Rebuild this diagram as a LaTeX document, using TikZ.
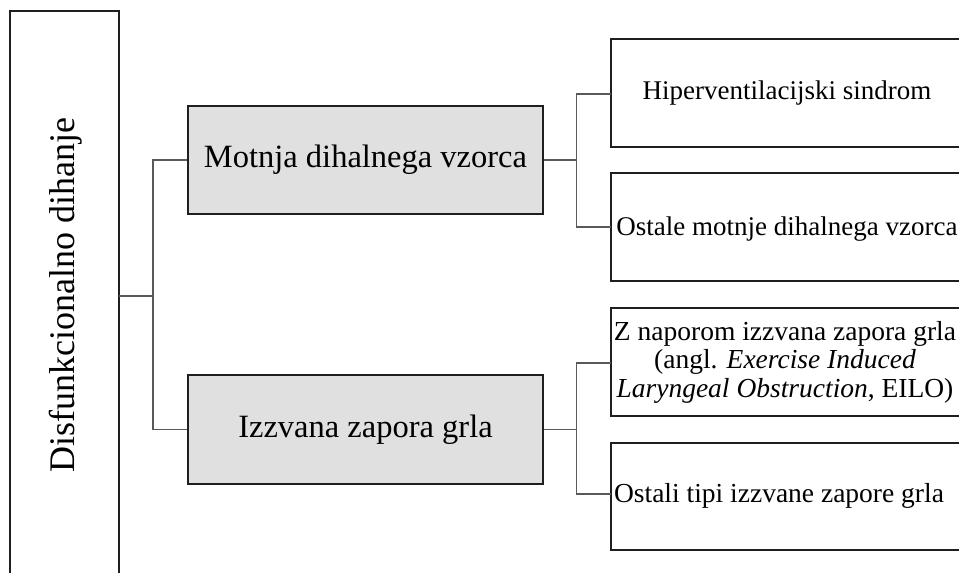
\documentclass[tikz,border=0pt]{standalone}
\usepackage{fontspec}
\setmainfont{Liberation Serif}
\begin{document}
\begin{tikzpicture}[x=1pt,y=-1pt,
  box/.style={draw=black!88, line width=1.8pt, inner sep=0pt},
  grp/.style={box, fill=black!12, minimum width=355pt, font=\fontsize{32.5}{38}\selectfont},
  link/.style={draw=black!65, line width=1.4pt},
  leaf/.style={font=\fontsize{27}{31}\selectfont, align=center}
]
\useasboundingbox (0,0) rectangle (959,573);
\clip (0,0) rectangle (959,573);

% root column, running past the lower edge
\draw[box] (10,11) rectangle (119,600);
\node[rotate=90, font=\fontsize{36}{42}\selectfont] (root) at (66,295) {Disfunkcionalno dihanje};
\coordinate (rootR) at (119,296);

% second level
\node[grp, minimum height=108pt] (g1) at (365.5,160) {Motnja dihalnega vzorca};
\node[grp, minimum height=109pt] (g2) at (365.5,429.5) {Izzvana zapora grla};

% third level (boxes run past the right edge)
\draw[box] (611,39) rectangle (980,147);
\draw[box] (611,173) rectangle (980,281);
\draw[box] (611,308) rectangle (980,416);
\draw[box] (611,443) rectangle (980,550);
\node[leaf] (l1) at (787,93) {Hiperventilacijski sindrom};
\node[leaf] (l2) at (787,229) {Ostale motnje dihalnega vzorca};
\node[leaf, font=\fontsize{27.5}{28.5}\selectfont] (l3) at (785,362) {Z naporom izzvana zapora grla\\(angl. \textit{Exercise Induced}\\\textit{Laryngeal Obstruction}, EILO)};
\node[leaf, font=\fontsize{27.5}{31}\selectfont] (l4) at (779,496) {Ostali tipi izzvane zapore grla};
\coordinate (b1) at (611,94);
\coordinate (b2) at (611,227);
\coordinate (b3) at (611,363);
\coordinate (b4) at (611,494);

% connectors
\draw[link] (rootR) -- (153,296);
\draw[link] (g1.west) -| (153,296) |- (g2.west);
\draw[link] (g1.east) -- (576.5,160);
\draw[link] (b1) -| (576.5,160) |- (b2);
\draw[link] (g2.east) -- (576.5,429.5);
\draw[link] (b3) -| (576.5,429.5) |- (b4);
\end{tikzpicture}
\end{document}
